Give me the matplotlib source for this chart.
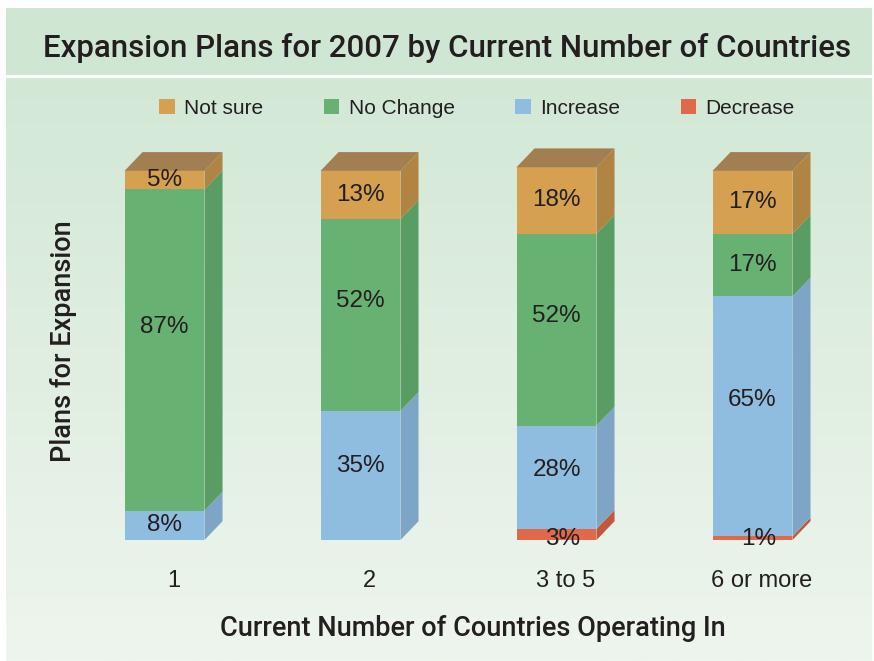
import numpy as np
import matplotlib
matplotlib.use('Agg')
import matplotlib.pyplot as plt
from matplotlib.patches import Polygon, Rectangle

plt.rcParams['font.family'] = ['Liberation Sans', 'DejaVu Sans']

categories = ['1', '2', '3 to 5', '6 or more']
not_sure = [5, 13, 18, 17]
no_change = [87, 52, 52, 17]
increase = [8, 35, 28, 65]
decrease = [0, 0, 3, 1]

# series drawn bottom-up: (name, values, front colour, side colour)
series = [
    ('Decrease', decrease, '#e0694b', '#c4563b'),
    ('Increase', increase, '#8fbde0', '#7ea5c6'),
    ('No Change', no_change, '#67b273', '#599d65'),
    ('Not sure', not_sure, '#d5a151', '#b08442'),
]
legend_order = ['Not sure', 'No Change', 'Increase', 'Decrease']
top_color = '#a27f51'
text_color = '#231f20'
head_font = ['Roboto', 'Liberation Sans', 'DejaVu Sans']

W, H = 874, 661
fig = plt.figure(figsize=(W / 100, H / 100), dpi=100)

# background: white border, title band, soft green gradient panel
bg = fig.add_axes([0, 0, 1, 1])
bg.set_xlim(0, W)
bg.set_ylim(H, 0)
bg.axis('off')
grad = np.linspace(0, 1, 256).reshape(-1, 1)
c0 = np.array([0xd2, 0xe8, 0xd5]) / 255
c1 = np.array([0xee, 0xf5, 0xee]) / 255
img = c0 + (c1 - c0) * grad[:, :, None]
bg.imshow(img, extent=[6, 872, H, 78], aspect='auto', zorder=0)
bg.add_patch(Rectangle((6, 8), 866, 67, color='#cfe6d2', zorder=1, lw=0))
bg.text(447, 48, 'Expansion Plans for 2007 by Current Number of Countries',
        ha='center', va='center', fontsize=22.5, fontweight='medium',
        family=head_font, color=text_color)

# main axes: 196 px per category, 3.69 px per percent
ax = fig.add_axes([46.9 / W, (H - 558.5) / H, 823.2 / W, 424.5 / H])
ax.set_xlim(-0.6, 3.6)
ax.set_ylim(-5, 110)
ax.patch.set_visible(False)
for s in ax.spines.values():
    s.set_visible(False)

x = np.arange(len(categories))
w = 0.408
dx, dy = 0.092, 5.1

bottom = np.zeros(len(categories))
handles = {}
for name, vals, front, side in series:
    vals = np.array(vals, dtype=float)
    bars = ax.bar(x, vals, w, bottom=bottom, color=front, linewidth=0, zorder=2)
    handles[name] = bars
    for i in range(len(x)):
        v, b = vals[i], bottom[i]
        if v <= 0:
            continue
        xr = x[i] + w / 2
        ax.add_patch(Polygon([(xr, b), (xr + dx, b + dy), (xr + dx, b + v + dy), (xr, b + v)],
                             closed=True, color=side, lw=0, zorder=2))
        if v < 5 and name == 'Decrease':
            ax.text(x[i] + 0.03, b + 0.3, f'{int(v)}%', ha='center', va='center',
                    fontsize=17.5, color=text_color, zorder=4)
        else:
            frac = 0.57 if v > 25 else 0.5
            ax.text(x[i], b + v * frac, f'{int(v)}%', ha='center', va='center',
                    fontsize=17.5, color=text_color, zorder=4)
    bottom = bottom + vals

# top faces
for i in range(len(x)):
    t = bottom[i]
    xl, xr = x[i] - w / 2, x[i] + w / 2
    ax.add_patch(Polygon([(xl, t), (xl + dx, t + dy), (xr + dx, t + dy), (xr, t)],
                         closed=True, color=top_color, lw=0, zorder=3))

ax.set_yticks([])
ax.set_xticks(x + 0.045)
ax.set_xticklabels(categories, fontsize=17, color=text_color)
ax.tick_params(axis='x', length=0, pad=8)
ax.set_xlabel('Current Number of Countries Operating In', fontsize=19.5,
              fontweight='medium', family=head_font, color=text_color)
ax.xaxis.set_label_coords(0.517, -0.164)
ax.xaxis.label.set_va('center')
ax.set_ylabel('Plans for Expansion', fontsize=19.5, fontweight='medium',
              family=head_font, color=text_color)
ax.yaxis.set_label_coords(0.0196, 0.512)
ax.yaxis.label.set_va('center')

leg = fig.legend([handles[n] for n in legend_order], legend_order,
                 loc='center', bbox_to_anchor=(477 / W, (H - 108) / H), ncol=4,
                 frameon=False, fontsize=15, handlelength=0.75, handleheight=0.75,
                 handletextpad=0.45, columnspacing=2.9, labelcolor=text_color)

fig.savefig('out.png', dpi=100)
